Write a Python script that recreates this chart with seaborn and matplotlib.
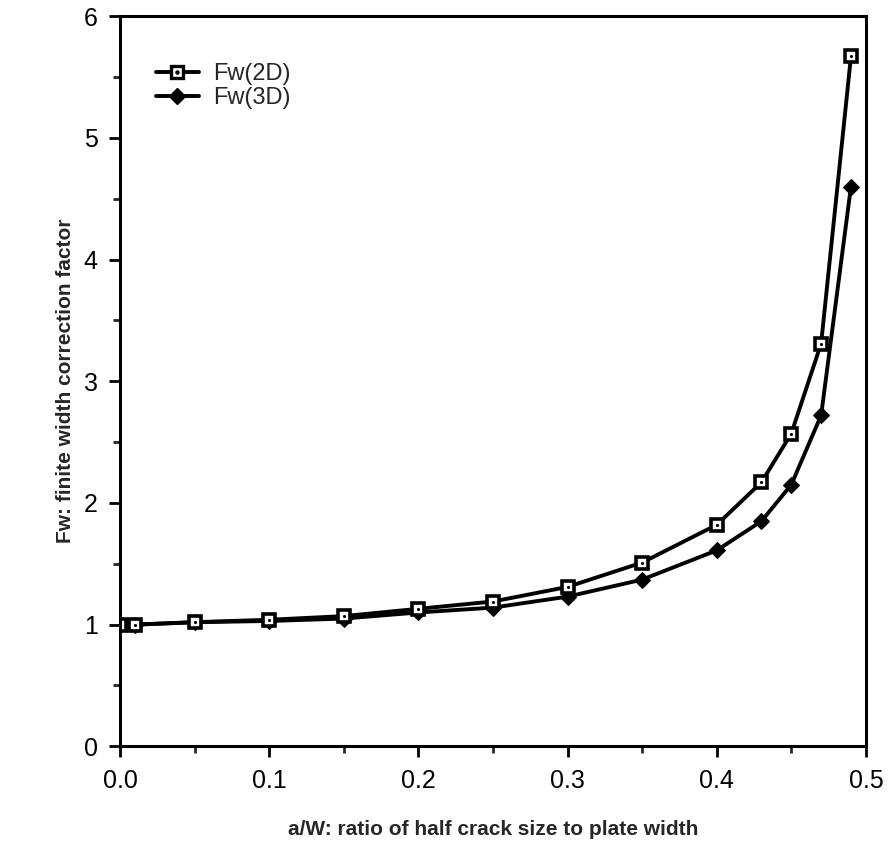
import pandas as pd
import matplotlib
matplotlib.use("Agg")
import matplotlib.pyplot as plt
from matplotlib.lines import Line2D
from matplotlib.ticker import MultipleLocator
import seaborn as sns

sns.set_theme(style="ticks")
plt.rcParams['font.family'] = ['Liberation Sans', 'DejaVu Sans']

# data
a_w = [0.0, 0.01, 0.05, 0.1, 0.15, 0.2, 0.25, 0.3, 0.35, 0.4, 0.43, 0.45, 0.47, 0.49]
fw_2d = [1.0, 1.0, 1.02, 1.04, 1.07, 1.13, 1.19, 1.31, 1.51, 1.82, 2.17, 2.57, 3.31, 5.67]
fw_3d = [1.0, 1.0, 1.02, 1.03, 1.05, 1.10, 1.14, 1.23, 1.37, 1.61, 1.85, 2.15, 2.72, 4.60]
series_names = ["Fw(2D)", "Fw(3D)"]

df = pd.concat([
    pd.DataFrame({"a_w": a_w, "fw": fw_2d, "series": series_names[0]}),
    pd.DataFrame({"a_w": a_w, "fw": fw_3d, "series": series_names[1]}),
])

fig = plt.figure(figsize=(8.89, 8.51), dpi=100)
ax = fig.add_axes([0.135, 0.123, 0.839, 0.858])

# 3D: filled diamonds
sns.lineplot(data=df[df.series == series_names[1]], x="a_w", y="fw", ax=ax,
             color="black", lw=2.8, marker="D", markersize=8,
             markerfacecolor="black", markeredgecolor="black", legend=False)
# 2D: open squares with a centre dot
sns.lineplot(data=df[df.series == series_names[0]], x="a_w", y="fw", ax=ax,
             color="black", lw=2.8, marker="s", markersize=9,
             markerfacecolor="white", markeredgecolor="black",
             markeredgewidth=2.6, legend=False)
sns.scatterplot(data=df[df.series == series_names[0]], x="a_w", y="fw", ax=ax,
                color="black", s=5, marker="o", linewidth=0, zorder=5, legend=False)

ax.set_xlim(0, 0.5)
ax.set_ylim(0, 6)
ax.xaxis.set_major_locator(MultipleLocator(0.1))
ax.xaxis.set_minor_locator(MultipleLocator(0.05))
ax.yaxis.set_major_locator(MultipleLocator(1))
ax.yaxis.set_minor_locator(MultipleLocator(0.5))
ax.xaxis.set_major_formatter(matplotlib.ticker.FormatStrFormatter("%.1f"))
ax.tick_params(which="major", direction="out", length=8, width=2, labelsize=18,
               colors="black", pad=8)
ax.tick_params(which="minor", direction="out", length=5, width=2)
for sp in ax.spines.values():
    sp.set_linewidth(2.2)
    sp.set_color("black")

ax.set_xlabel("a/W: ratio of half crack size to plate width", fontsize=15,
              fontweight="bold", labelpad=20)
ax.set_ylabel("Fw: finite width correction factor", fontsize=15,
              fontweight="bold", labelpad=6)

h2 = (Line2D([], [], color="black", lw=2.8, marker="s", markersize=8,
             markerfacecolor="white", markeredgecolor="black", markeredgewidth=2.4),
      Line2D([], [], color="black", lw=0, marker="o", markersize=2.2))
h3 = Line2D([], [], color="black", lw=2.8, marker="D", markersize=8)
ax.legend([h2, h3], series_names, loc="upper left", bbox_to_anchor=(0.02, 0.965),
          frameon=False, fontsize=17, handlelength=1.8, handletextpad=0.6,
          labelspacing=0.1)

fig.savefig("out.png", dpi=100)
